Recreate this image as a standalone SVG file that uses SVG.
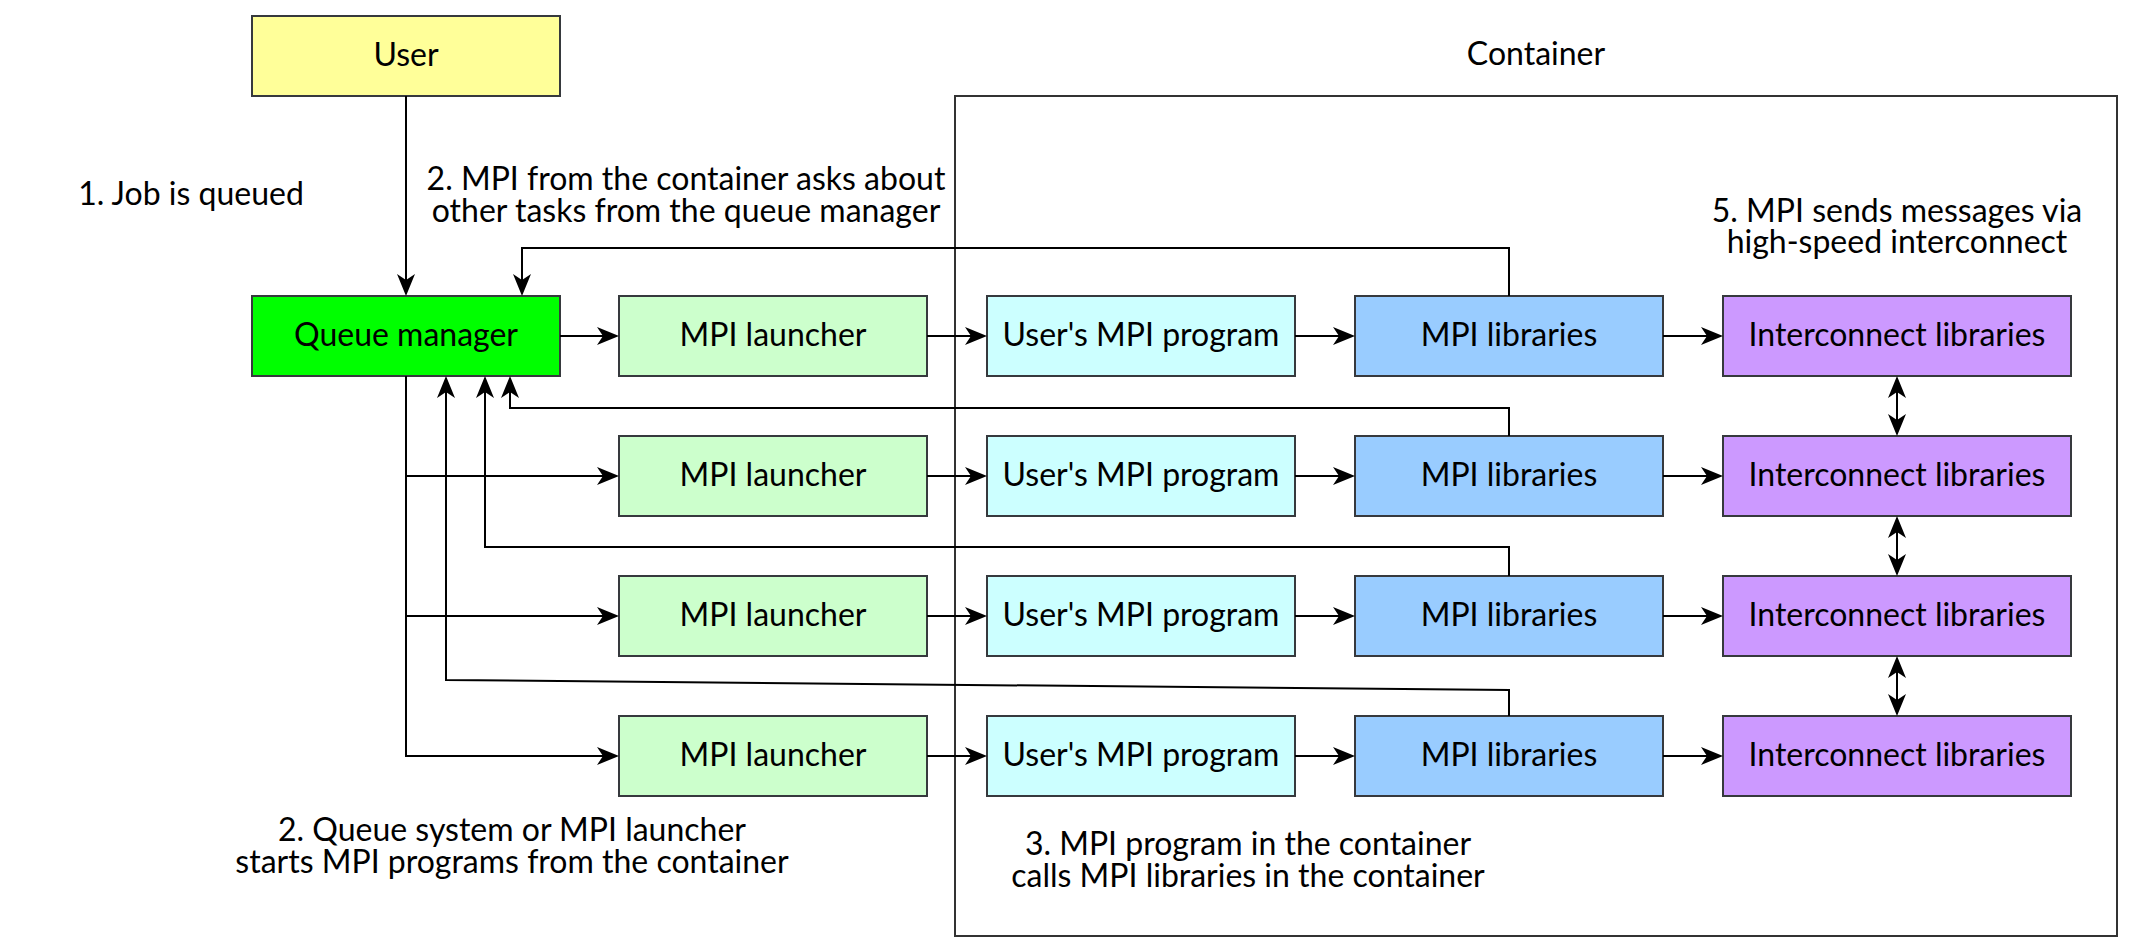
<svg xmlns="http://www.w3.org/2000/svg" width="2134" height="952" viewBox="0 0 2134 952">
<style>
text{font-family:Lato,"Liberation Sans",sans-serif;font-size:32px;fill:#000;text-anchor:middle}
.box{stroke:#36393d;stroke-width:2}
.user{fill:#ffff99}
.qm{fill:#00ff00}
.launch{fill:#ccffcc}
.prog{fill:#ccffff}
.lib{fill:#99ccff}
.ic{fill:#cc99ff}
.cont{fill:none;stroke:#333;stroke-width:2}
.c{fill:none;stroke:#000;stroke-width:2}
.a{marker-end:url(#arr)}
.d{marker-start:url(#arr);marker-end:url(#arr)}
</style>
<defs>
<marker id="arr" markerUnits="userSpaceOnUse" markerWidth="24" markerHeight="20" viewBox="0 -10 24 20" refX="6" refY="0" orient="auto-start-reverse">
<path d="M0,-9 L22,0 L0,9 L6,0 Z" fill="#000"/>
</marker>
</defs>
<rect width="2134" height="952" fill="#fff"/>

<g id="container">
<rect class="cont" x="955" y="96" width="1162" height="840"/>
<text x="1536" y="65">Container</text>
</g>

<g id="user"><rect class="box user" x="252" y="16" width="308" height="80"/><text x="406" y="66">User</text></g>
<g id="queue-manager"><rect class="box qm" x="252" y="296" width="308" height="80"/><text x="406" y="346">Queue manager</text></g>

<g id="launcher-1"><rect class="box launch" x="619" y="296" width="308" height="80"/><text x="773" y="346">MPI launcher</text></g>
<g id="launcher-2"><rect class="box launch" x="619" y="436" width="308" height="80"/><text x="773" y="486">MPI launcher</text></g>
<g id="launcher-3"><rect class="box launch" x="619" y="576" width="308" height="80"/><text x="773" y="626">MPI launcher</text></g>
<g id="launcher-4"><rect class="box launch" x="619" y="716" width="308" height="80"/><text x="773" y="766">MPI launcher</text></g>

<g id="program-1"><rect class="box prog" x="987" y="296" width="308" height="80"/><text x="1141" y="346">User's MPI program</text></g>
<g id="program-2"><rect class="box prog" x="987" y="436" width="308" height="80"/><text x="1141" y="486">User's MPI program</text></g>
<g id="program-3"><rect class="box prog" x="987" y="576" width="308" height="80"/><text x="1141" y="626">User's MPI program</text></g>
<g id="program-4"><rect class="box prog" x="987" y="716" width="308" height="80"/><text x="1141" y="766">User's MPI program</text></g>

<g id="mpi-lib-1"><rect class="box lib" x="1355" y="296" width="308" height="80"/><text x="1509" y="346">MPI libraries</text></g>
<g id="mpi-lib-2"><rect class="box lib" x="1355" y="436" width="308" height="80"/><text x="1509" y="486">MPI libraries</text></g>
<g id="mpi-lib-3"><rect class="box lib" x="1355" y="576" width="308" height="80"/><text x="1509" y="626">MPI libraries</text></g>
<g id="mpi-lib-4"><rect class="box lib" x="1355" y="716" width="308" height="80"/><text x="1509" y="766">MPI libraries</text></g>

<g id="interconnect-1"><rect class="box ic" x="1723" y="296" width="348" height="80"/><text x="1897" y="346">Interconnect libraries</text></g>
<g id="interconnect-2"><rect class="box ic" x="1723" y="436" width="348" height="80"/><text x="1897" y="486">Interconnect libraries</text></g>
<g id="interconnect-3"><rect class="box ic" x="1723" y="576" width="348" height="80"/><text x="1897" y="626">Interconnect libraries</text></g>
<g id="interconnect-4"><rect class="box ic" x="1723" y="716" width="348" height="80"/><text x="1897" y="766">Interconnect libraries</text></g>

<g id="labels">
<text x="191" y="205">1. Job is queued</text>
<text x="686" y="190">2. MPI from the container asks about<tspan x="686" dy="32">other tasks from the queue manager</tspan></text>
<text x="1897" y="222">5. MPI sends messages via<tspan x="1897" dy="31">high-speed interconnect</tspan></text>
<text x="512" y="841">2. Queue system or MPI launcher<tspan x="512" dy="32">starts MPI programs from the container</tspan></text>
<text x="1248" y="855">3. MPI program in the container<tspan x="1248" dy="32">calls MPI libraries in the container</tspan></text>
</g>

<g id="connectors">
<path class="c a" d="M406,96 V280"/>
<path class="c a" d="M1509,296 V248 H522 V280"/>
<path class="c a" d="M560,336 H603"/>
<path class="c a" d="M406,376 V476 H603"/>
<path class="c a" d="M406,476 V616 H603"/>
<path class="c a" d="M406,616 V756 H603"/>
<path class="c a" d="M1509,436 V408 H510 V392"/>
<path class="c a" d="M1509,576 V547 H485 V392"/>
<path class="c a" d="M1509,716 V690 L446,680 V392"/>
<path class="c a" d="M927,336 H971"/>
<path class="c a" d="M927,476 H971"/>
<path class="c a" d="M927,616 H971"/>
<path class="c a" d="M927,756 H971"/>
<path class="c a" d="M1295,336 H1339"/>
<path class="c a" d="M1295,476 H1339"/>
<path class="c a" d="M1295,616 H1339"/>
<path class="c a" d="M1295,756 H1339"/>
<path class="c a" d="M1663,336 H1707"/>
<path class="c a" d="M1663,476 H1707"/>
<path class="c a" d="M1663,616 H1707"/>
<path class="c a" d="M1663,756 H1707"/>
<path class="c d" d="M1897,392 V420"/>
<path class="c d" d="M1897,532 V560"/>
<path class="c d" d="M1897,672 V700"/>
</g>
</svg>
